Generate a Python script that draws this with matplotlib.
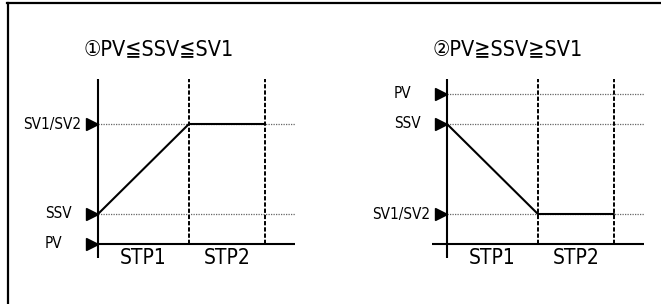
import matplotlib
matplotlib.use("Agg")
import matplotlib.pyplot as plt
from matplotlib import font_manager
from matplotlib.lines import Line2D
import matplotlib.transforms as mtrans

# ---------------- data ----------------
titles = ["①PV≦SSV≦SV1", "②PV≧SSV≧SV1"]
level_labels = ["PV", "SSV", "SV1/SV2"]
panel1_levels = [0, 2, 8]      # PV, SSV, SV1/SV2
panel2_levels = [10, 8, 2]     # PV, SSV, SV1/SV2
step_times = [0, 6, 11]        # step boundaries
step_names = ["STP1", "STP2"]
panel1_profile = [2, 8, 8]
panel2_profile = [8, 2, 2]
x_end = 13
y_top = 11
y_bottom = -0.93
axis_start = [0, -1]           # where the horizontal axis starts in each panel

# ---------------- fonts ----------------
cond = None
for f in font_manager.fontManager.ttflist:
    fn = f.fname.lower()
    if ("narrow" in fn or "condensed" in fn or f.stretch in ("condensed", "semi-condensed")) \
            and f.style == "normal" and f.weight in (400, "normal", "regular"):
        cond = (f.name, f.stretch)
        break
if cond is not None:
    base_family, stretch = cond
else:
    base_family, stretch = "Liberation Sans", "normal"
fam = [base_family, "Noto Sans CJK JP", "DejaVu Sans"]
plt.rcParams["font.family"] = fam
plt.rcParams["font.stretch"] = stretch

W, H, DPI = 661, 304, 100
fig = plt.figure(figsize=(W / DPI, H / DPI), dpi=DPI)

px_per_x = 15.15
px_per_y = 15.0
xlim = (-6, 13.5)
ylim = (-3, 15)
origins_px = [98, 447]
origin_y_from_top = 244

panels = [
    (panel1_levels, panel1_profile),
    (panel2_levels, panel2_profile),
]

for i, (levels, profile) in enumerate(panels):
    left_px = origins_px[i] + xlim[0] * px_per_x
    width_px = (xlim[1] - xlim[0]) * px_per_x
    bottom_px = (H - origin_y_from_top) + ylim[0] * px_per_y
    height_px = (ylim[1] - ylim[0]) * px_per_y
    ax = fig.add_axes([left_px / W, bottom_px / H, width_px / W, height_px / H])
    ax.set_xlim(*xlim)
    ax.set_ylim(*ylim)
    ax.axis("off")

    for lv in levels:
        if lv != 0:
            ax.plot([0, x_end], [lv, lv], color="#666666", lw=0.9,
                    linestyle=(0, (1, 1)), zorder=1)
    for t in step_times[1:]:
        ax.plot([t, t], [0, y_top], color="black", lw=1.4,
                linestyle=(0, (2.2, 1.0)), zorder=2)
    ax.plot([axis_start[i], x_end], [0, 0], color="black", lw=1.5, zorder=3,
            solid_capstyle="butt")
    ax.plot([0, 0], [y_bottom, y_top], color="black", lw=1.5, zorder=3,
            solid_capstyle="butt")
    ax.plot(step_times, profile, color="black", lw=1.5, zorder=4)

    off_marker = mtrans.offset_copy(ax.transData, fig=fig, x=-6, y=0, units="dots")
    off_right = mtrans.offset_copy(ax.transData, fig=fig, x=-17, y=0, units="dots")
    off_left = mtrans.offset_copy(ax.transData, fig=fig, x=-53, y=0, units="dots")
    for lab, lv in zip(level_labels, levels):
        ax.plot([0], [lv], marker=">", ms=8.5, color="black", transform=off_marker,
                clip_on=False, zorder=5)
        if lab == "SV1/SV2":
            ax.text(0, lv, lab, transform=off_right, ha="right", va="center",
                    fontsize=11)
        else:
            ax.text(0, lv, lab, transform=off_left, ha="left", va="center",
                    fontsize=11)

    for k, name in enumerate(step_names):
        xc = (step_times[k] + step_times[k + 1]) / 2
        ax.text(xc, -0.95, name, ha="center", va="center", fontsize=15)

    ax.text(4.0, 13, titles[i], ha="center", va="center", fontsize=15.5)

fig.add_artist(Line2D([7.5 / W, 7.5 / W], [0, 1 - 2.5 / H], color="black", lw=1.6,
                      transform=fig.transFigure))
fig.add_artist(Line2D([6.5 / W, 1], [1 - 2.5 / H, 1 - 2.5 / H], color="black", lw=1.6,
                      transform=fig.transFigure))

fig.savefig("out.png", dpi=DPI)
